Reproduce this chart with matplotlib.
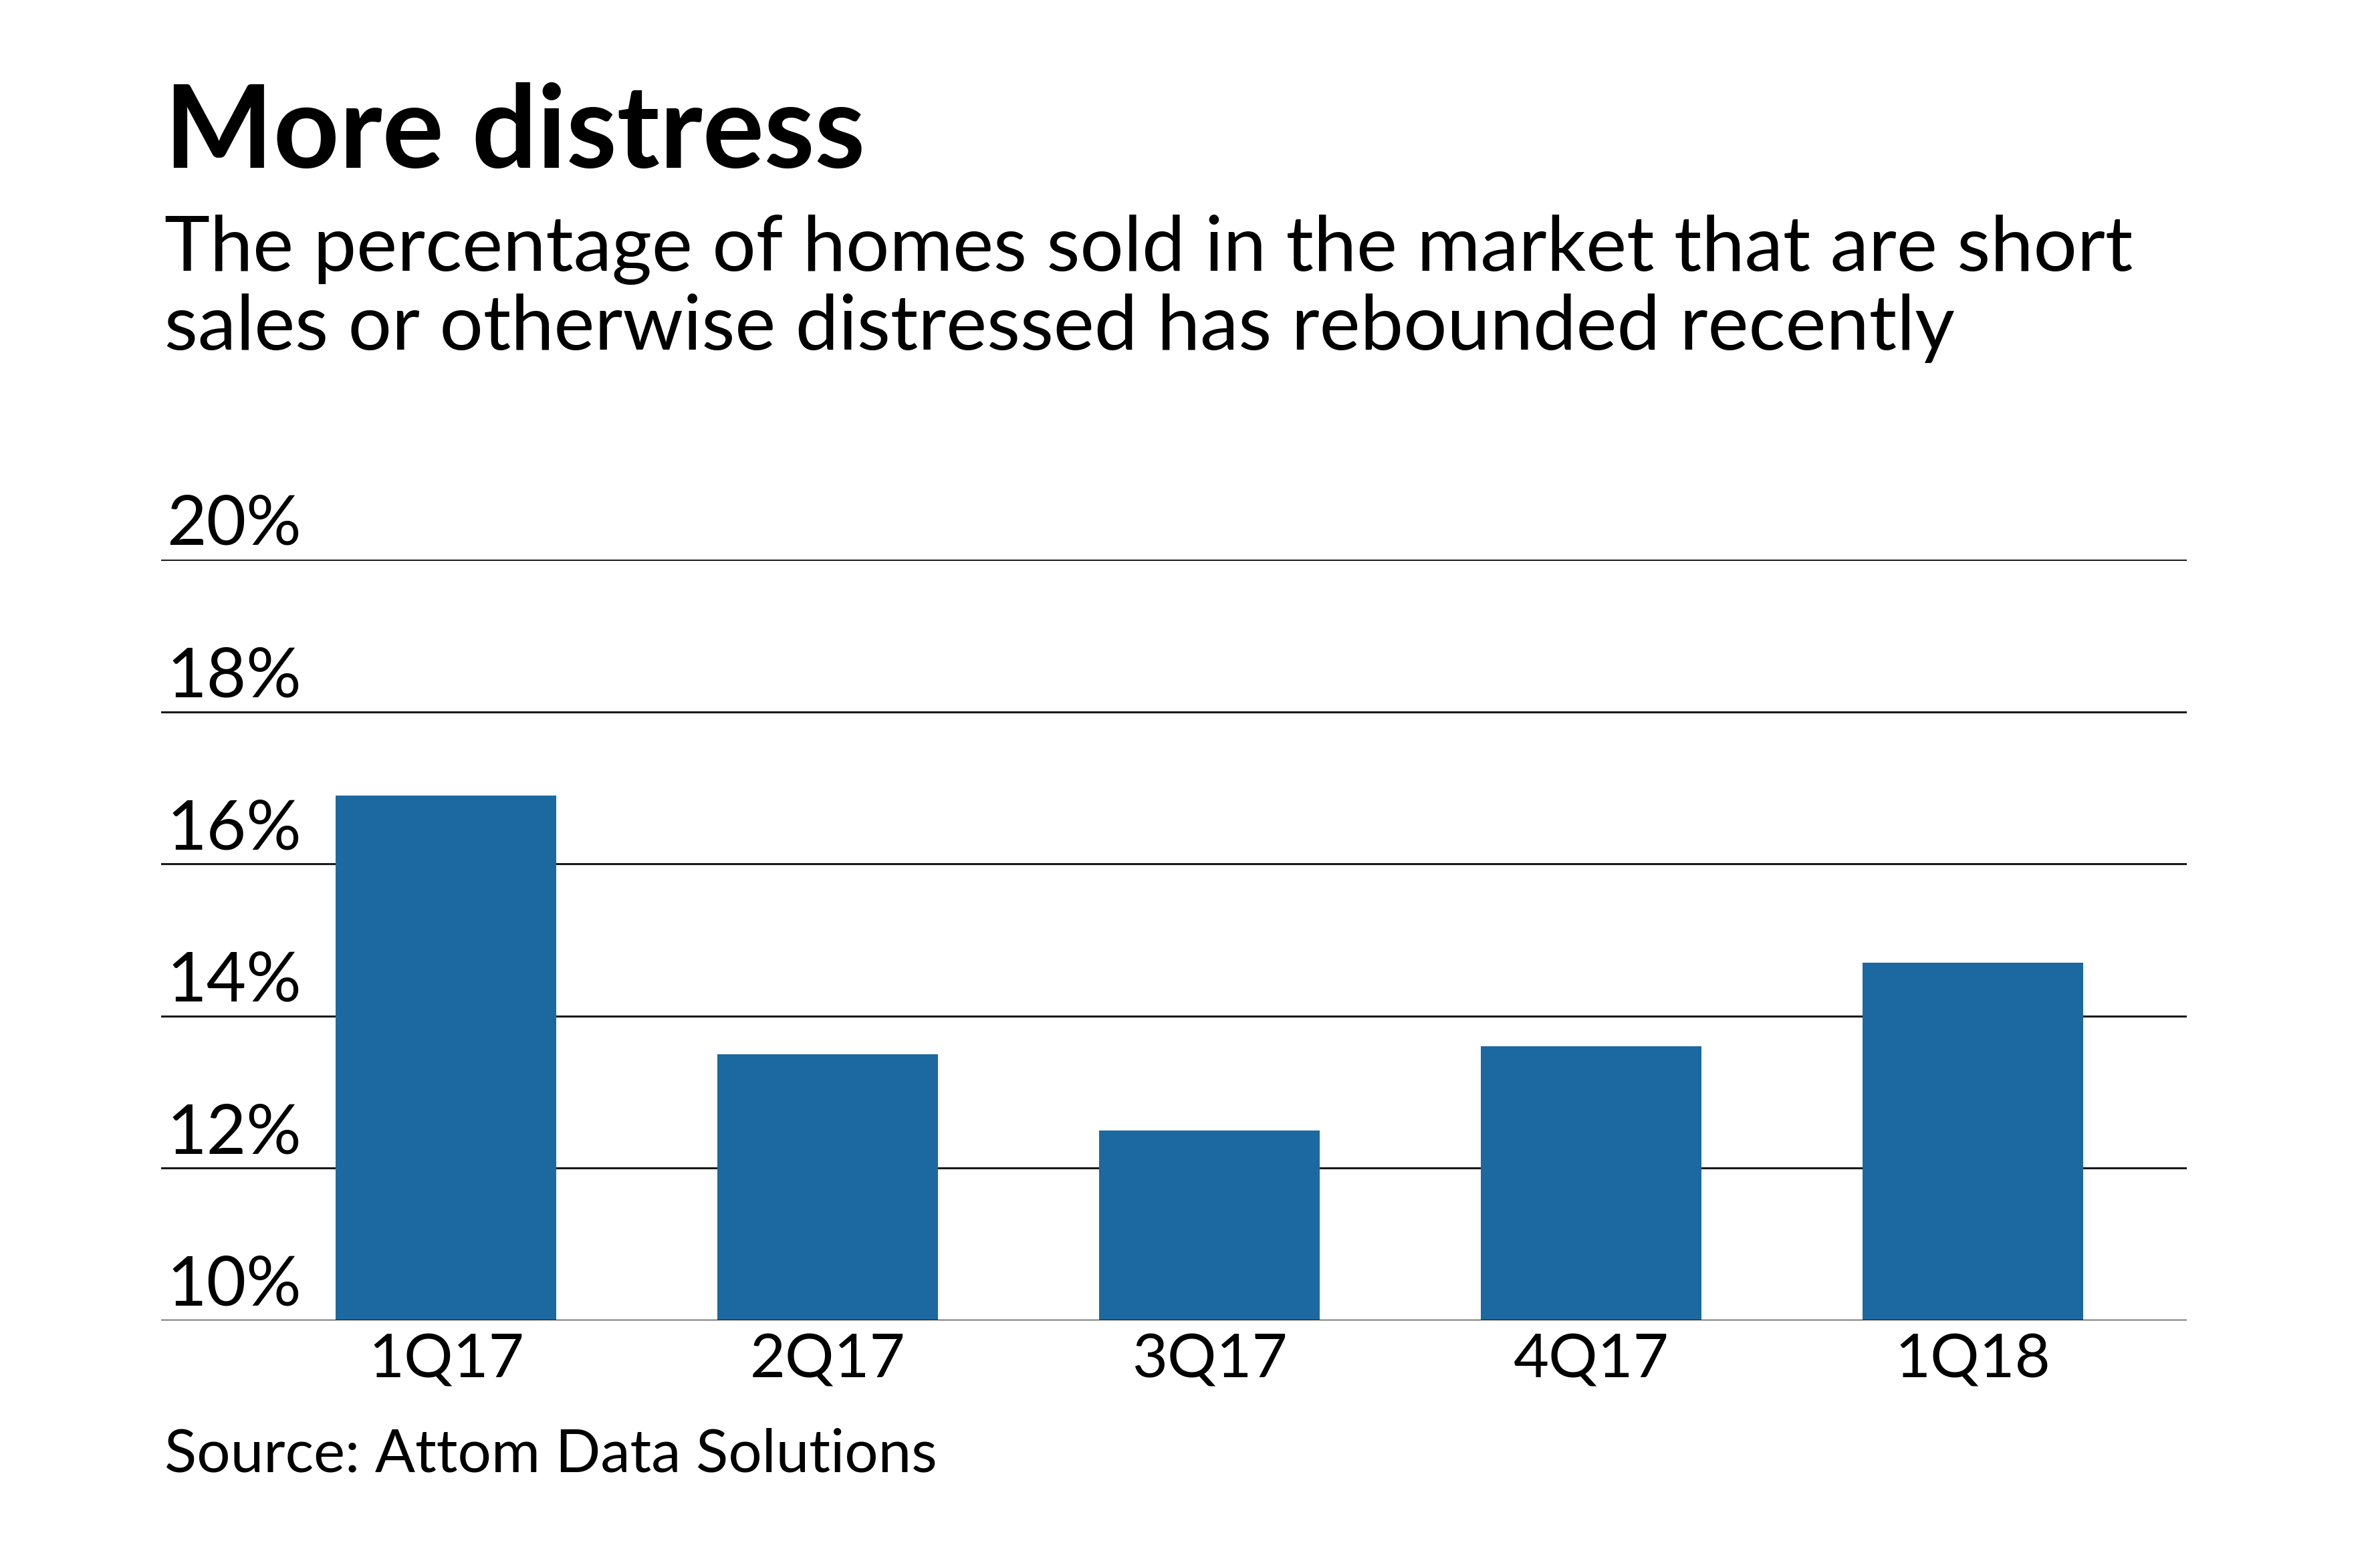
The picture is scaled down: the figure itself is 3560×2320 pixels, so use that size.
"""Bar chart: share of distressed home sales by quarter."""

import matplotlib.pyplot as plt
from matplotlib.transforms import blended_transform_factory, offset_copy

quarters = ["1Q17", "2Q17", "3Q17", "4Q17", "1Q18"]
distressed_pct = [16.9, 13.5, 12.5, 13.6, 14.7]
y_ticks = [10, 12, 14, 16, 18, 20]
y_tick_labels = ["10%", "12%", "14%", "16%", "18%", "20%"]

title = "More distress"
subtitle_lines = [
    "The percentage of homes sold in the market that are short",
    "sales or otherwise distressed has rebounded recently",
]
source = "Source: Attom Data Solutions"

BAR_COLOR = "#1b69a0"
FONT = ["Lato", "DejaVu Sans"]

plt.rcParams["font.family"] = FONT

fig = plt.figure(figsize=(35.6, 23.2), dpi=100)
ax = fig.add_axes([0.0677, 0.1487, 0.851, 0.4905])

x = list(range(len(quarters)))
ax.bar(x, distressed_pct, width=0.578, color=BAR_COLOR, zorder=2)

ax.set_ylim(y_ticks[0], y_ticks[-1])
ax.set_xlim(-0.747, 4.56)

# horizontal rules at each tick, labels sit just above them
for v in y_ticks:
    ax.axhline(v, color="#1a1a1a", lw=2.2, zorder=1 if v != y_ticks[0] else 3)

trans = blended_transform_factory(ax.transAxes, ax.transData)
trans = offset_copy(trans, fig=fig, x=6, y=16, units="points")
for v, lab in zip(y_ticks, y_tick_labels):
    ax.text(0, v, lab, transform=trans, ha="left", va="baseline",
            fontsize=74, color="black", clip_on=False)

ax.set_yticks([])
ax.set_xticks(x)
ax.set_xticklabels(quarters, fontsize=66)
ax.tick_params(axis="x", length=0, pad=13)
for s in ax.spines.values():
    s.set_visible(False)

fig.text(0.069, 0.892, title, fontsize=124, fontweight="bold", va="baseline")
for i, line in enumerate(subtitle_lines):
    fig.text(0.069, 0.8254 - i * 0.0508, line, fontsize=83, va="baseline")
fig.text(0.069, 0.0509, source, fontsize=64, va="baseline")

fig.savefig("out.png", dpi=100, facecolor="white")
